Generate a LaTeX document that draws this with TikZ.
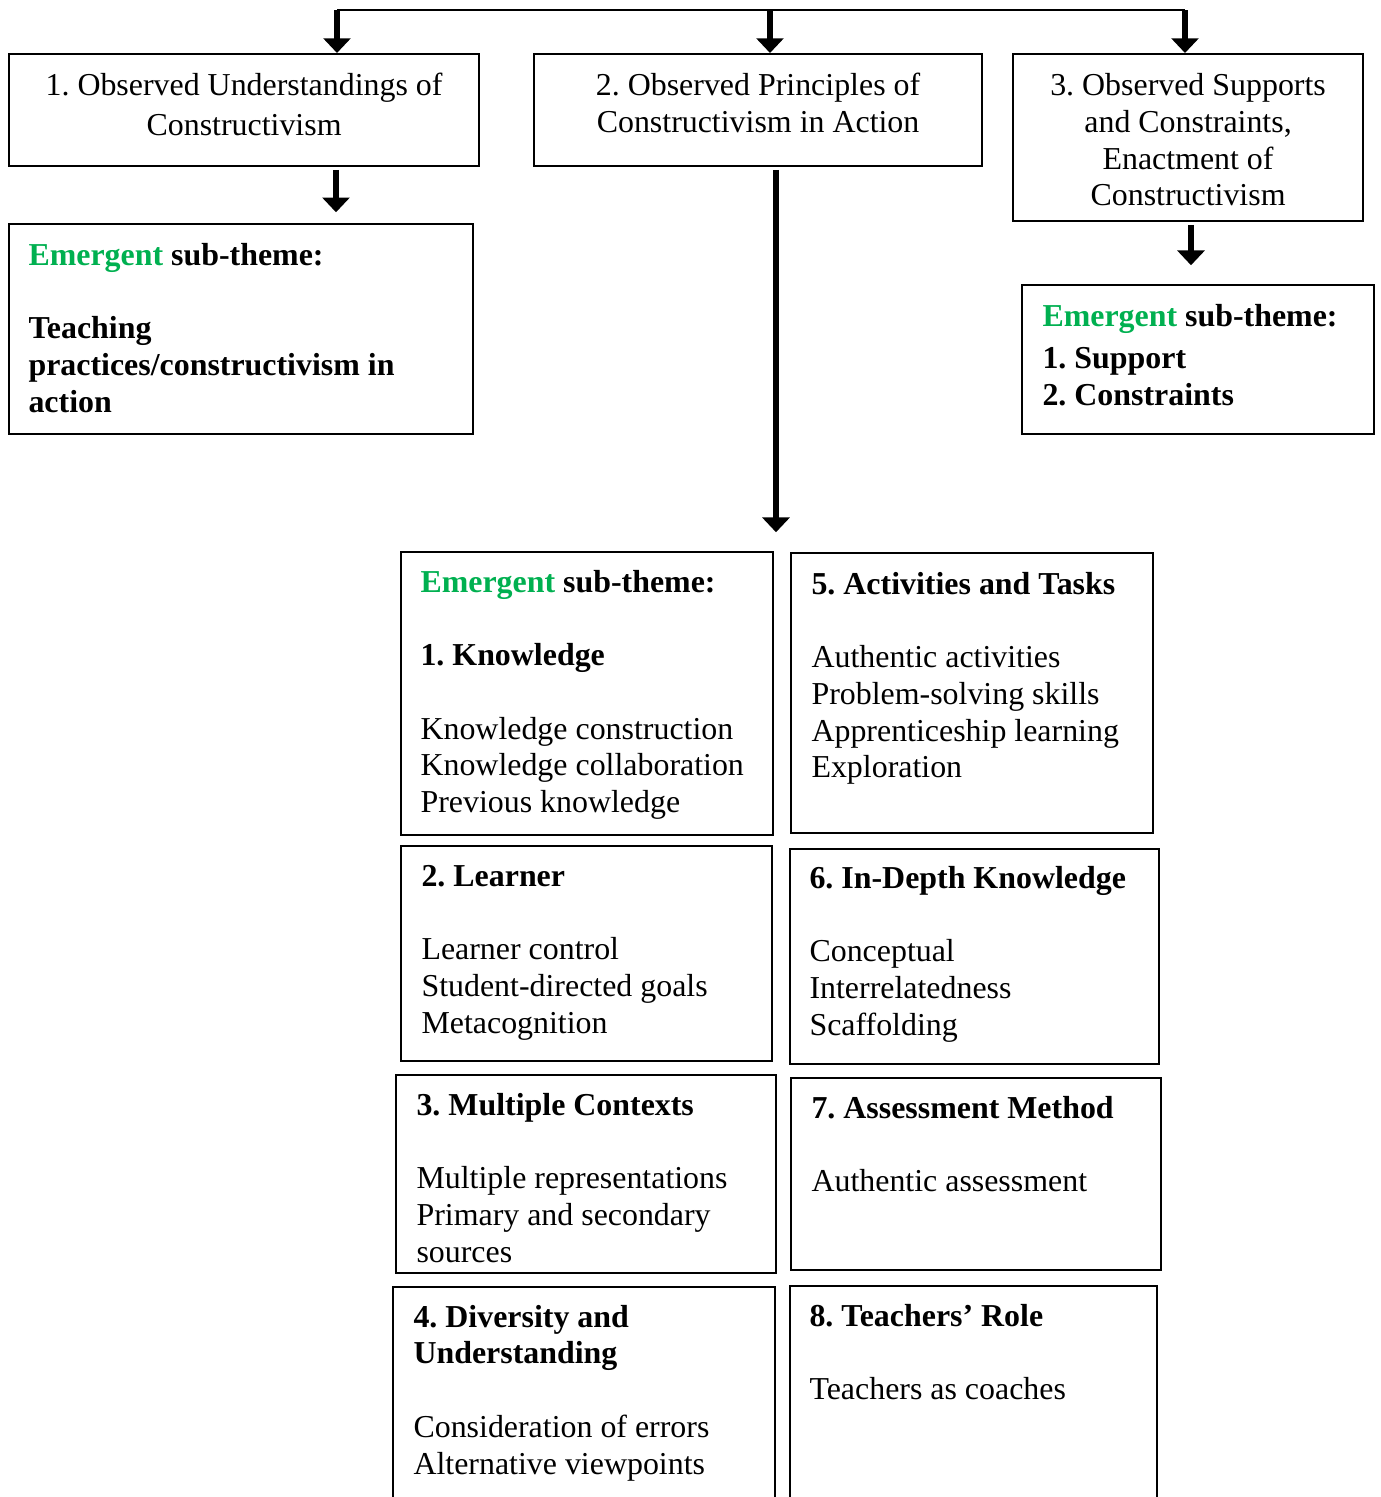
\documentclass[tikz,border=0pt]{standalone}
\usepackage{fontspec}
\setmainfont{Liberation Serif}
\usetikzlibrary{arrows.meta}
\definecolor{emgreen}{RGB}{0,176,80}
\newcommand{\pxu}{0.373pt}
\frenchspacing
\begin{document}
\begin{tikzpicture}[x=0.373pt,y=-0.373pt,
    box/.style={draw, line width=0.8pt, anchor=north west, inner sep=0pt},
    txt/.style={anchor=north west, inner sep=0pt, align=left, font=\fontsize{11.9}{13.7}\selectfont},
    head/.style={anchor=north, inner sep=0pt, align=center, font=\fontsize{11.9}{13.7}\selectfont},
    arr/.style={line width=2.4pt, -{Triangle[width=10pt,length=5.5pt]}}]
  \clip (0,0) rectangle (1381,1497);
  % three observed themes
  \node[box, minimum width=470*\pxu, minimum height=112*\pxu] (obs1) at (8,53) {};
  \node[box, minimum width=448*\pxu, minimum height=112*\pxu] (obs2) at (533,53) {};
  \node[box, minimum width=350*\pxu, minimum height=167*\pxu] (obs3) at (1012,53) {};
  \node[head] (obs1t) at ([yshift=-16.5*\pxu]obs1.north) {\strut1. Observed Understandings of\\[1pt]Constructivism};
  \node[head] (obs2t) at ([yshift=-16.5*\pxu]obs2.north) {\strut2. Observed Principles of\\Constructivism in Action};
  \node[head] (obs3t) at ([yshift=-16.5*\pxu]obs3.north) {\strut3. Observed Supports\\and Constraints,\\Enactment of\\Constructivism};
  \coordinate (t1) at (337,10);
  \coordinate (t2) at (770,10);
  \coordinate (t3) at (1185,10);
  \draw[line width=0.7pt] (t1) -- (t3);
  \draw[arr] (t1) -- (t1 |- obs1.north);
  \draw[arr] (t2) -- (t2 |- obs2.north);
  \draw[arr] (t3) -- (t3 |- obs3.north);
  % sub-themes
  \node[box, minimum width=464*\pxu, minimum height=210*\pxu] (sub1) at (8,223) {};
  \node[txt] (sub1t) at ([shift={(20,16)}]sub1.north west) {\strut\textbf{\textcolor{emgreen}{Emergent} sub-theme:}\\[13.7pt]\textbf{Teaching}\\\textbf{practices/constructivism in}\\\textbf{action}};
  \node[box, minimum width=352*\pxu, minimum height=149*\pxu] (sub3) at (1021,284) {};
  \node[txt] (sub3t) at ([shift={(21,16)}]sub3.north west) {\strut\textbf{\textcolor{emgreen}{Emergent} sub-theme:}\\[2pt]\textbf{1. Support}\\\textbf{2. Constraints}};
  \coordinate (a1) at (336,0);
  \coordinate (a2) at (776,0);
  \coordinate (a3) at (1191,0);
  \draw[arr, shorten <=1pt, shorten >=4pt] (obs1.south -| a1) -- (sub1.north -| a1);
  \draw[arr, shorten <=1pt, shorten >=7pt] (obs3.south -| a3) -- (sub3.north -| a3);
  % principles in action
  \node[box, minimum width=372*\pxu, minimum height=283*\pxu] (knw) at (400,551) {};
  \node[box, minimum width=362*\pxu, minimum height=280*\pxu] (act) at (790,552) {};
  \node[box, minimum width=371*\pxu, minimum height=215*\pxu] (lrn) at (400,845) {};
  \node[box, minimum width=369*\pxu, minimum height=215*\pxu] (dep) at (789,848) {};
  \node[box, minimum width=380*\pxu, minimum height=198*\pxu] (ctx) at (395,1074) {};
  \node[box, minimum width=370*\pxu, minimum height=192*\pxu] (asm) at (790,1077) {};
  \node[box, minimum width=382*\pxu, minimum height=240*\pxu] (div) at (392,1286) {};
  \node[box, minimum width=367*\pxu, minimum height=240*\pxu] (tch) at (789,1285) {};
  \draw[arr, shorten <=1pt, shorten >=7pt] (obs2.south -| a2) -- (knw.north -| a2);
  \node[txt] (knwt) at ([shift={(20,15)}]knw.north west) {\strut\textbf{\textcolor{emgreen}{Emergent} sub-theme:}\\[13.7pt]\textbf{1. Knowledge}\\[13.7pt]Knowledge construction\\Knowledge collaboration\\Previous knowledge};
  \node[txt] (actt) at ([shift={(21,16)}]act.north west) {\strut\textbf{5. Activities and Tasks}\\[13.7pt]Authentic activities\\Problem-solving skills\\Apprenticeship learning\\Exploration};
  \node[txt] (lrnt) at ([shift={(21,15)}]lrn.north west) {\strut\textbf{2. Learner}\\[13.7pt]Learner control\\Student-directed goals\\Metacognition};
  \node[txt] (dept) at ([shift={(20,14)}]dep.north west) {\strut\textbf{6. In-Depth Knowledge}\\[13.7pt]Conceptual\\Interrelatedness\\Scaffolding};
  \node[txt] (ctxt) at ([shift={(21,15)}]ctx.north west) {\strut\textbf{3. Multiple Contexts}\\[13.7pt]Multiple representations\\Primary and secondary\\sources};
  \node[txt] (asmt) at ([shift={(21,15)}]asm.north west) {\strut\textbf{7. Assessment Method}\\[13.7pt]Authentic assessment};
  \node[txt] (divt) at ([shift={(21,15)}]div.north west) {\strut\textbf{4. Diversity and}\\\textbf{Understanding}\\[13.7pt]Consideration of errors\\Alternative viewpoints};
  \node[txt] (tcht) at ([shift={(20,15)}]tch.north west) {\strut\textbf{8. Teachers’ Role}\\[13.7pt]Teachers as coaches};
\end{tikzpicture}
\end{document}
